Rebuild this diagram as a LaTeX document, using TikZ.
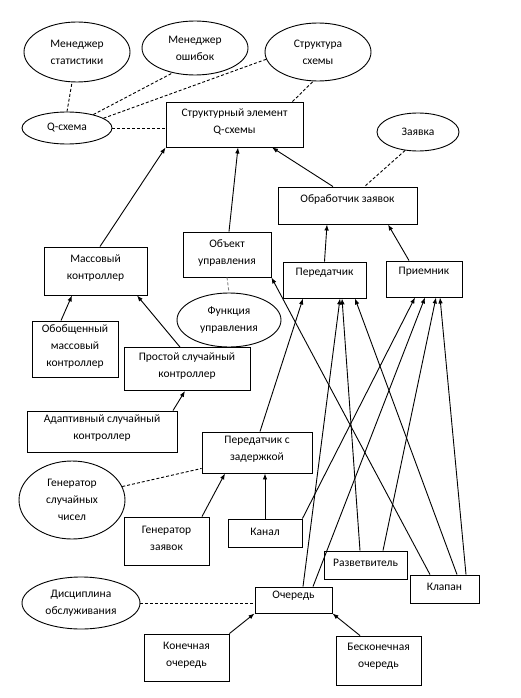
\documentclass[tikz,border=0pt]{standalone}
\usepackage{fontspec}
\setmainfont{Carlito}
\usetikzlibrary{shapes.geometric,arrows.meta}
\begin{document}
\begin{tikzpicture}[x=1pt,y=-1pt,
  every node/.style={font=\fontsize{11.5}{17}\selectfont, align=center, inner sep=0pt},
  box/.style={draw, line width=0.9pt},
  ell/.style={draw, ellipse, line width=0.9pt},
  lbl/.style={},
  dsh/.style={dashed, line width=0.9pt, dash pattern=on 3pt off 2pt},
  arr/.style={line width=0.9pt, -{Latex[length=6pt,width=4.5pt]}}]
\useasboundingbox (0,0) rectangle (520,698);
% ellipses
\node[ell, minimum width=106pt, minimum height=60pt] (ms) at (77,52) {Менеджер\\статистики};
\node[ell, minimum width=106pt, minimum height=54pt] (mo) at (195,48) {Менеджер\\ошибок};
\node[ell, minimum width=106pt, minimum height=58pt] (ss) at (318,52) {Структура\\схемы};
\node[ell, minimum width=90pt, minimum height=32pt] (qs) at (67,128) {Q-схема};
\node[ell, minimum width=82pt, minimum height=38pt] (zv) at (418,132) {Заявка};
\node[ell, minimum width=104pt, minimum height=54pt] (fu) at (229,320) {Функция\\управления};
\node[ell, minimum width=106pt, minimum height=78pt] (gs) at (72,500) {Генератор\\случайных\\чисел};
\node[ell, minimum width=118pt, minimum height=52pt] (ds) at (81,603) {Дисциплина\\обслуживания};
% boxes
\node[box, minimum width=137pt, minimum height=45pt] (se) at (234.5,124.5) {};
\node[lbl] (se-t) at (234.5,122) {Структурный элемент\\Q-схемы};
\node[box, minimum width=139pt, minimum height=37pt] (oz) at (347.5,205.5) {};
\node[lbl] (oz-t) at (347.5,200) {Обработчик заявок};
\node[box, minimum width=83pt, minimum height=36pt] (pd) at (324.5,280) {};
\node[lbl] (pd-t) at (324.5,273) {Передатчик};
\node[box, minimum width=76pt, minimum height=36pt] (pr) at (424,279) {};
\node[lbl] (pr-t) at (424,272) {Приемник};
\node[box, minimum width=88pt, minimum height=45pt] (ou) at (227,254.5) {};
\node[lbl] (ou-t) at (227,253) {Объект\\управления};
\node[box, minimum width=103pt, minimum height=48pt] (mk) at (95.5,271) {};
\node[lbl] (mk-t) at (95.5,268) {Массовый\\контроллер};
\node[box, minimum width=86pt, minimum height=56pt] (om) at (75,349) {};
\node[lbl] (om-t) at (75,347) {Обобщенный\\массовый\\контроллер};
\node[box, minimum width=126pt, minimum height=43pt] (ps) at (187,369) {};
\node[lbl] (ps-t) at (187,366) {Простой случайный\\контроллер};
\node[box, minimum width=150pt, minimum height=41pt] (as) at (102,431.5) {};
\node[lbl] (as-t) at (102,428) {Адаптивный случайный\\контроллер};
\node[box, minimum width=110pt, minimum height=41pt] (pz) at (257,452.5) {};
\node[lbl] (pz-t) at (257,449) {Передатчик с\\задержкой};
\node[box, minimum width=85pt, minimum height=48pt] (gz) at (166.5,541) {};
\node[lbl] (gz-t) at (166.5,538) {Генератор\\заявок};
\node[box, minimum width=74pt, minimum height=28pt] (kn) at (265,533) {};
\node[lbl] (kn-t) at (265,532) {Канал};
\node[box, minimum width=83pt, minimum height=28pt] (rz) at (365.5,565) {};
\node[lbl] (rz-t) at (365.5,563) {Разветвитель};
\node[box, minimum width=69pt, minimum height=28pt] (kl) at (444.5,589) {};
\node[lbl] (kl-t) at (444.5,587) {Клапан};
\node[box, minimum width=77pt, minimum height=26pt] (oc) at (293.5,600) {};
\node[lbl] (oc-t) at (293.5,596) {Очередь};
\node[box, minimum width=85pt, minimum height=47pt] (ko) at (186.5,657.5) {};
\node[lbl] (ko-t) at (186.5,655) {Конечная\\очередь};
\node[box, minimum width=85pt, minimum height=49pt] (bo) at (378.5,660.5) {};
\node[lbl] (bo-t) at (378.5,656) {Бесконечная\\очередь};
% dashed links
\draw[dsh] (qs.north) -- ([xshift=-5pt]ms.south);
\draw[dsh] (qs.27) -- (mo.228);
\draw[dsh] (qs.15) -- (ss.188);
\draw[dsh] (qs.east) -- (qs.east -| se.west);
\draw[dsh] ([xshift=58pt]se.north) -- ([xshift=-5pt]ss.south);
\draw[dsh] (zv.235) -- ([xshift=17pt]oz.north);
\draw[dsh, gray] (ou.south) -- (fu.north);
\draw[dsh] (gs.15) -- ([yshift=5pt]pz.south west);
\draw[dsh] (ds.east) -- (ds.east -| oc.west);
% arrows
\draw[arr] ([xshift=4.5pt]mk.north) -- (se.south west);
\draw[arr] ([xshift=2pt]ou.north) -- ([xshift=3.5pt]se.south);
\draw[arr] ([xshift=-14.5pt]oz.north) -- ([xshift=37.5pt]se.south);
\draw[arr] (pd.north) -- ([xshift=-20.5pt]oz.south);
\draw[arr] ([xshift=-15pt]pr.north) -- ([xshift=40.5pt]oz.south);
\draw[arr] ([xshift=-14pt]om.north) -- ([xshift=-23.5pt]mk.south);
\draw[arr] ([xshift=-7pt]ps.north) -- ([xshift=41.5pt]mk.south);
\draw[arr] ([xshift=71pt]as.north) -- ([xshift=-2pt]ps.south);
\draw[arr] ([xshift=35.5pt]gz.north) -- ([xshift=-32pt]pz.south);
\draw[arr] (kn.north) -- ([xshift=8pt]pz.south);
\draw[arr] (ko.north east) -- (oc.south west);
\draw[arr] ([xshift=-18.5pt]bo.north) -- (oc.south east);
\draw[arr] ([xshift=3pt]pz.north) -- ([xshift=-21.5pt]pd.south);
\draw[arr] ([xshift=9.5pt]oc.north) -- ([xshift=15.5pt]pd.south);
\draw[arr] ([xshift=-5.5pt]rz.north) -- ([xshift=17.5pt]pd.south);
\draw[arr] ([xshift=12.5pt]kl.north) -- ([xshift=30.5pt]pd.south);
\draw[arr] (kn.north east) -- ([xshift=-9pt]pr.south);
\draw[arr] ([xshift=19.5pt]oc.north) -- ([xshift=1pt]pr.south);
\draw[arr] ([xshift=17.5pt]rz.north) -- ([xshift=12pt]pr.south);
\draw[arr] ([xshift=21.5pt]kl.north) -- ([xshift=16pt]pr.south);
\draw[arr] ([xshift=-14.5pt]kl.north) -- (ou.south east);
\end{tikzpicture}
\end{document}
